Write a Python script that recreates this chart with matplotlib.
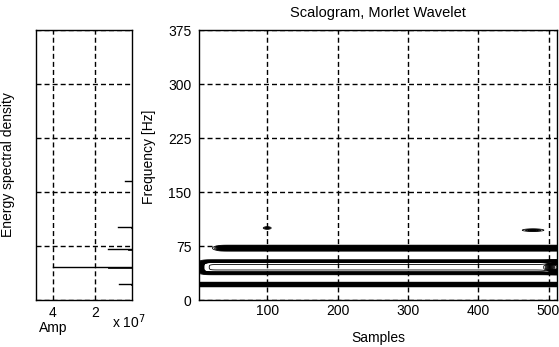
import numpy as np
import matplotlib
matplotlib.use("Agg")
import matplotlib.pyplot as plt

# ---- data ----
spike_freqs = [22, 46, 71, 101, 165]           # Hz
spike_amps = [0.9e7, 4.0e7, 1.4e7, 0.93e7, 0.6e7]

band_freqs = [21.5, 45.5, 72.0]                  # Hz, scalogram ridges
band_widths = [1.3, 7.2, 1.6]                    # Hz
band_orders = [2, 4, 2]                          # profile sharpness
band_amps = [1.0, 4.0, 1.4]
band_starts = [-20, 10, 32]                      # sample where ridge begins
band_end_boost = [0.0, 1.0, 0.0]                 # extra energy at the last samples

blob_samples = [100, 478]
blob_freqs = [100, 97]
blob_time_widths = [4.0, 11.0]
blob_amps = [0.35, 0.35]

freq_ticks = [0, 75, 150, 225, 300, 375]
sample_ticks = [100, 200, 300, 400, 500]
amp_ticks = [4e7, 2e7]
amp_ticklabels = ["4", "2"]

samples = np.arange(1, 513)
freqs = np.linspace(0, 375, 1501)

plt.rcParams['font.family'] = ['Liberation Sans', 'DejaVu Sans']
plt.rcParams['font.size'] = 10

fig = plt.figure(figsize=(5.59, 3.47), dpi=100)
W, H = 559, 347
ax_l = fig.add_axes([36 / W, (H - 300) / H, (132 - 36) / W, 270 / H])
ax = fig.add_axes([199 / W, (H - 300) / H, (557 - 199) / W, 270 / H])

grid_kw = dict(color='k', linestyle=(0, (3.6, 2.2)), linewidth=1.0)

# ---- left: energy spectral density ----
for f, a in zip(spike_freqs, spike_amps):
    ax_l.plot([0, a], [f, f], color='k', lw=1.0)
    ax_l.plot([0, a * 0.35], [f - 1.2, f - 1.2], color='k', lw=0.6)
ax_l.set_xlim(4.8e7, 0.28e7)
ax_l.set_ylim(0, 375)
ax_l.set_xticks(amp_ticks)
ax_l.set_xticklabels(amp_ticklabels)
ax_l.set_yticks(freq_ticks)
ax_l.set_yticklabels([])
ax_l.tick_params(direction='in', length=0, labelsize=10, pad=4)
ax_l.grid(True, **grid_kw)
ax_l.set_axisbelow(True)
ax_l.set_ylabel("Energy spectral density", fontsize=10)
ax_l.yaxis.set_label_coords((15 - 36) / 96, 0.5)
ax_l.set_xlabel("Amp", fontsize=10)
ax_l.xaxis.set_label_coords((53 - 36) / 96, -(328 - 300) / 270)
ax_l.xaxis.label.set_va('center')
fig.text(112 / W, 1 - 322 / H, r"x 10$^7$", fontsize=10, ha='left', va='center')

# ---- right: scalogram ----
T, F = np.meshgrid(samples, freqs)
Z = np.zeros_like(F, dtype=float)
for fc, bw, p, a, s0, boost in zip(band_freqs, band_widths, band_orders, band_amps,
                                   band_starts, band_end_boost):
    prof = np.exp(-np.abs((F - fc) / bw) ** p / (2 if p == 2 else 1))
    env = 1 / (1 + np.exp(-(T - s0) / 3.0)) * (1 + boost / (1 + np.exp(-(T - 502) / 3.0)))
    Z += a * prof * env
for ts, fc, tw, a in zip(blob_samples, blob_freqs, blob_time_widths, blob_amps):
    Z += a * np.exp(-((F - fc) / 1.3) ** 2 - ((T - ts) / tw) ** 2)

levels = np.concatenate([np.linspace(0.05, 2.0, 25), [3.7],
                         np.linspace(4.2, 8.0, 20)])
ax.contour(T, F, Z, levels=levels, colors='k', linewidths=0.6)

ax.set_xlim(3, 512)
ax.set_ylim(0, 375)
ax.set_xticks(sample_ticks)
ax.set_yticks(freq_ticks)
ax.tick_params(direction='in', length=0, labelsize=10)
ax.tick_params(axis='y', pad=5.5)
ax.tick_params(axis='x', pad=3)
ax.grid(True, **grid_kw)
ax.set_title("Scalogram, Morlet Wavelet", fontsize=10.5, pad=9)
ax.set_xlabel("Samples", fontsize=10)
ax.xaxis.set_label_coords(0.5, -(338 - 300) / 270)
ax.xaxis.label.set_va('center')
ax.set_ylabel("Frequency [Hz]", fontsize=10)
ax.yaxis.set_label_coords((148.5 - 199) / 358, (300 - 157) / 270)
ax.yaxis.label.set_va('center')

for a_ in (ax, ax_l):
    for sp in a_.spines.values():
        sp.set_linewidth(1.0)

fig.savefig("out.png", dpi=100)
